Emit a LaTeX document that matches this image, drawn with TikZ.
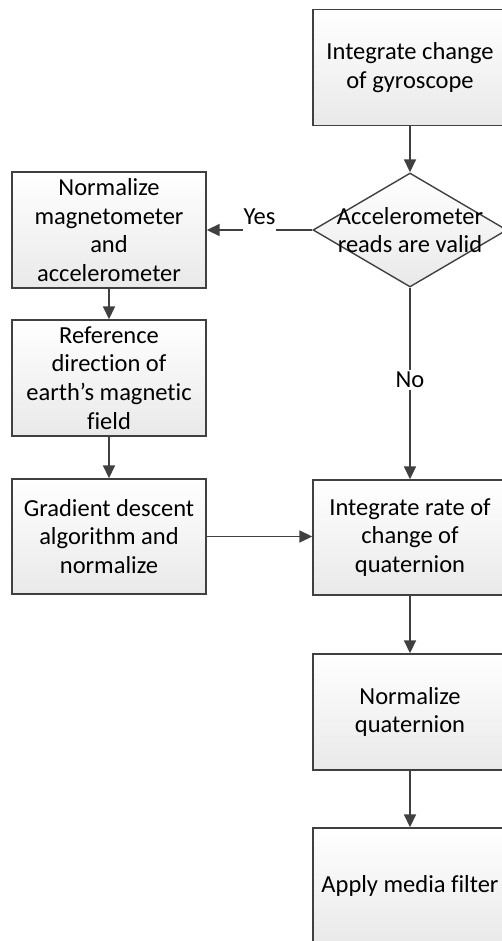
\documentclass[tikz,border=0pt]{standalone}
\usepackage{fontspec}
\setmainfont{Carlito}[Ligatures={NoCommon}]
\usetikzlibrary{shapes.geometric,arrows.meta}
\definecolor{edge}{HTML}{404040}
\definecolor{boxbot}{HTML}{E9E9E9}
\tikzset{
  x=1pt,y=1pt,
  txt/.style={font=\fontsize{24.5}{28.8}\selectfont},
  box/.style={draw=edge,line width=1.4pt,rectangle,minimum width=194pt,minimum height=116pt,
    inner sep=0pt,align=center,top color=white,bottom color=boxbot,txt},
  dia/.style={draw=edge,line width=1.4pt,diamond,minimum width=194pt,minimum height=114pt,
    inner sep=0pt,top color=white,bottom color=boxbot},
  flow/.style={draw=edge,line width=1.7pt,-{Triangle[length=13pt,width=12pt]}},
  lab/.style={fill=white,inner xsep=0.5pt,inner ysep=0pt,text depth=8pt,anchor=base,txt}
}
\begin{document}
\begin{tikzpicture}
\useasboundingbox (0,0) rectangle (502,-941);
\clip (0,0) rectangle (502,-941);
\node[box] (gyro) at (410,-67.5) {Integrate change\\of gyroscope};
\node[dia,label={[align=center,txt]center:Accelerometer\\reads are valid}] (valid) at (410,-230) {};
\node[box] (norm) at (109,-230) {Normalize\\magnetometer\\and\\accelerometer};
\node[box] (ref) at (109,-378) {Reference\\direction of\\earth’s magnetic\\field};
\node[box,minimum height=115pt] (grad) at (109,-536.5) {Gradient descent\\algorithm and\\normalize};
\node[box,minimum height=115pt] (rate) at (410,-537.5) {Integrate rate of\\change of\\quaternion};
\node[box] (nq) at (410,-712) {Normalize\\quaternion};
\node[box] (med) at (410,-886) {Apply media filter};
\draw[flow] (gyro) -- (valid);
\draw[flow] (valid.west) -- node[lab,yshift=5pt] (yes) {Yes} (norm.east);
\draw[flow] (valid.south) -- node[fill=white,inner sep=2pt,txt,pos=0.48] (no) {No} (rate.north);
\draw[flow] (norm) -- (ref);
\draw[flow] (ref) -- (grad);
\draw[flow] (grad.east) -- (rate.west|-grad.east);
\draw[flow] (rate) -- (nq);
\draw[flow] (nq) -- (med);
\end{tikzpicture}
\end{document}
